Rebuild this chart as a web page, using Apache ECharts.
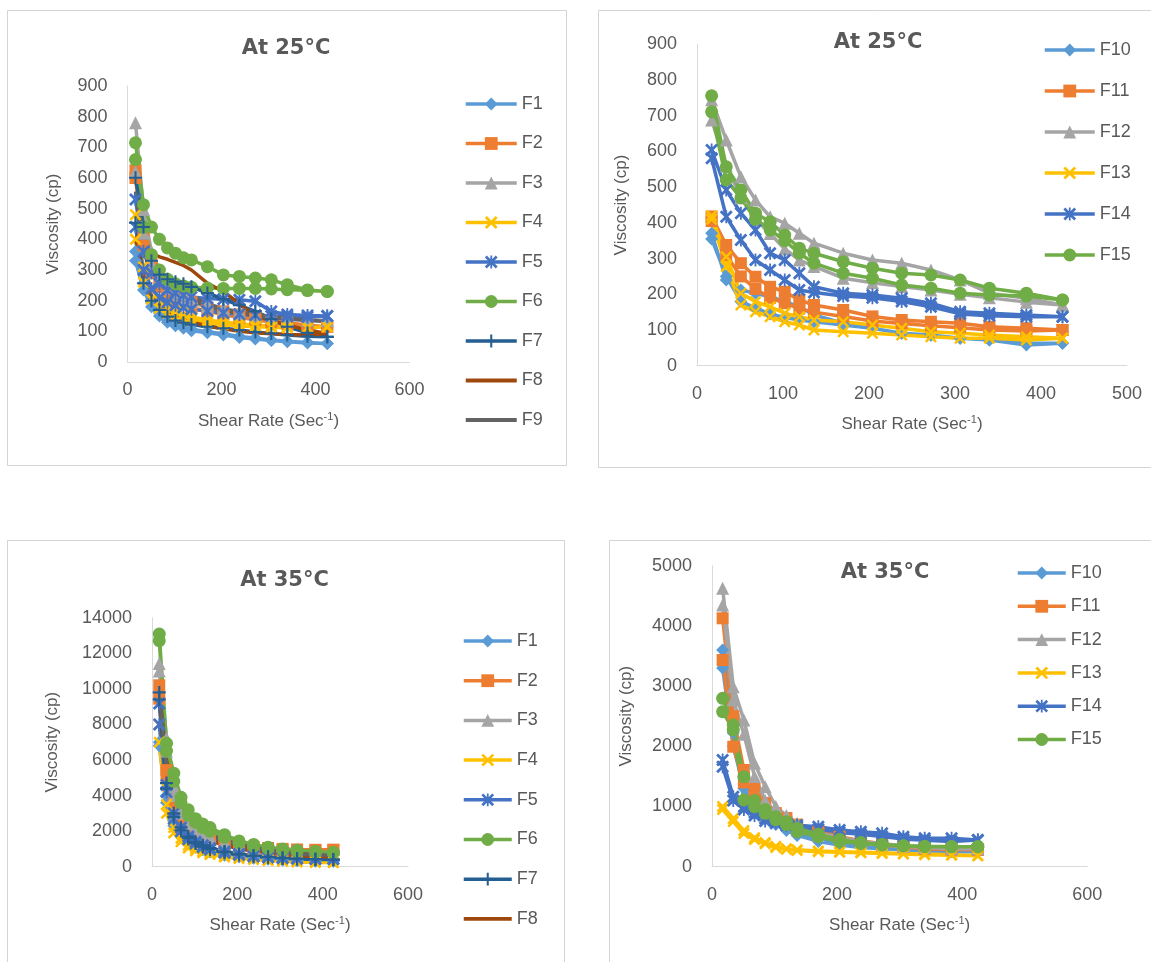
<!DOCTYPE html>
<html>
<head>
<meta charset="utf-8">
<title>Viscosity vs shear rate</title>
<script src="https://cdn.jsdelivr.net/npm/echarts@6/dist/echarts.min.js"></script>
<style>
  html, body { margin: 0; padding: 0; background: #fff; overflow: hidden; }
  #chart { width: 1151px; height: 962px; }
</style>
</head>
<body>
<div id="chart"></div>
<script>
// shear rate steps (Sec-1), same for the up run and the down run
const shearRate = [17, 34, 51, 68, 85, 102, 119, 136, 170, 204, 238, 272, 306, 340, 383, 425];

// ---- 25°C, F1 - F9 (cp) ----
const F1_25up   = [360, 257, 193, 160, 137, 125, 115, 107, 99, 92, 83, 78, 72, 68, 64, 60];
const F1_25down = [330, 235, 180, 150, 130, 118, 110, 102, 95, 88, 80, 75, 70, 66, 62, 60];
const F2_25up   = [625, 430, 320, 270, 240, 220, 205, 195, 178, 165, 155, 145, 135, 128, 120, 115];
const F2_25down = [600, 380, 290, 245, 220, 200, 188, 178, 165, 155, 145, 138, 130, 124, 118, 115];
const F3_25up   = [780, 497, 360, 300, 265, 245, 225, 210, 190, 175, 165, 155, 148, 142, 138, 135];
const F3_25down = [620, 420, 320, 270, 240, 220, 205, 195, 180, 168, 158, 150, 144, 140, 137, 135];
const F4_25up   = [480, 310, 240, 200, 180, 165, 155, 147, 137, 130, 125, 120, 117, 114, 112, 115];
const F4_25down = [400, 260, 205, 175, 160, 150, 142, 135, 128, 122, 118, 115, 113, 112, 112, 115];
const F5_25up   = [530, 360, 290, 255, 235, 225, 218, 212, 207, 205, 203, 198, 165, 155, 152, 150];
const F5_25down = [440, 300, 240, 210, 195, 185, 178, 172, 166, 160, 156, 153, 150, 148, 147, 150];
const F6_25up   = [715, 513, 440, 400, 372, 355, 340, 333, 311, 284, 279, 274, 268, 252, 235, 230];
const F6_25down = [660, 440, 350, 300, 270, 255, 248, 244, 241, 240, 240, 240, 238, 236, 233, 230];
const F7_25up   = [601, 440, 330, 285, 270, 262, 255, 245, 225, 205, 185, 165, 140, 115, 95, 82];
const F7_25down = [454, 257, 200, 170, 148, 135, 128, 122, 115, 110, 104, 98, 93, 88, 84, 82];
const F8_25up   = [410, 375, 355, 343, 335, 325, 315, 300, 257, 230, 190, 150, 135, 120, 105, 92];
const F8_25down = [400, 280, 215, 185, 165, 150, 140, 130, 118, 108, 100, 95, 92, 90, 88, 92];
const F9_25up   = [556, 400, 330, 295, 265, 246, 230, 213, 190, 172, 162, 155, 148, 142, 137, 132];
const F9_25down = [550, 370, 300, 260, 240, 225, 210, 200, 182, 168, 158, 150, 145, 140, 135, 132];

// ---- 25°C, F10 - F15 ----
const F10_25up   = [371, 240, 212, 203, 193, 179, 165, 142, 119, 105, 91, 86, 77, 72, 63, 63];
const F10_25down = [355, 250, 180, 161, 145, 135, 128, 123, 114, 105, 91, 85, 77, 72, 58, 63];
const F11_25up   = [418, 338, 287, 249, 221, 207, 184, 170, 156, 138, 128, 123, 119, 109, 105, 100];
const F11_25down = [405, 310, 250, 215, 190, 175, 160, 150, 138, 125, 118, 112, 106, 100, 97, 100];
const F12_25up   = [745, 632, 529, 464, 417, 399, 371, 343, 315, 296, 287, 268, 240, 203, 189, 170];
const F12_25down = [688, 560, 470, 410, 370, 327, 296, 278, 245, 232, 222, 212, 200, 190, 178, 170];
const F13_25up   = [420, 305, 203, 179, 165, 147, 137, 128, 123, 114, 105, 95, 91, 86, 81, 77];
const F13_25down = [410, 278, 170, 151, 137, 123, 114, 100, 95, 91, 86, 81, 77, 77, 72, 77];
const F14_25up   = [604, 492, 427, 380, 315, 296, 259, 221, 203, 198, 189, 175, 151, 147, 142, 137];
const F14_25down = [581, 417, 352, 296, 268, 240, 212, 205, 195, 190, 180, 165, 145, 140, 137, 137];
const F15_25up   = [756, 557, 492, 427, 403, 366, 329, 315, 291, 273, 259, 254, 240, 217, 203, 184];
const F15_25down = [711, 520, 470, 410, 380, 350, 315, 287, 259, 245, 226, 217, 203, 198, 195, 184];

// ---- 35°C, F1 - F9 ----
const F1_35up   = [7000, 4000, 2600, 1900, 1500, 1250, 1050, 900, 700, 580, 500, 440, 390, 350, 320, 300];
const F1_35down = [6800, 3600, 2300, 1700, 1350, 1100, 950, 820, 650, 550, 470, 420, 380, 340, 310, 300];
const F2_35up   = [10200, 5430, 3600, 2800, 2300, 2000, 1800, 1600, 1350, 1200, 1100, 1050, 1000, 970, 950, 950];
const F2_35down = [9445, 5000, 3300, 2600, 2100, 1850, 1650, 1500, 1250, 1100, 1000, 950, 920, 900, 900, 950];
const F3_35up   = [11420, 7220, 4500, 3300, 2600, 2200, 1900, 1700, 1400, 1200, 1050, 950, 870, 800, 750, 700];
const F3_35down = [11000, 6500, 4000, 3000, 2400, 2000, 1750, 1550, 1300, 1100, 980, 880, 800, 750, 720, 700];
const F4_35up   = [8000, 3500, 2200, 1600, 1200, 1000, 850, 750, 600, 500, 430, 380, 330, 290, 260, 230];
const F4_35down = [7000, 3000, 1900, 1400, 1050, 900, 780, 680, 550, 460, 400, 350, 310, 270, 240, 230];
const F5_35up   = [9180, 4600, 3000, 2200, 1700, 1400, 1200, 1050, 850, 720, 620, 550, 500, 460, 440, 430];
const F5_35down = [8000, 4200, 2700, 2000, 1550, 1300, 1100, 950, 780, 660, 580, 520, 480, 450, 430, 430];
const F6_35up   = [13085, 6940, 5260, 3900, 3200, 2700, 2400, 2200, 1800, 1450, 1250, 1100, 1000, 920, 860, 800];
const F6_35down = [12710, 6500, 4800, 3600, 2900, 2500, 2200, 2000, 1650, 1350, 1150, 1030, 950, 880, 830, 800];
const F7_35up   = [9800, 4700, 3000, 2200, 1700, 1400, 1200, 1050, 850, 720, 630, 560, 500, 460, 430, 400];
const F7_35down = [9400, 4400, 2800, 2050, 1600, 1300, 1120, 980, 800, 680, 600, 530, 480, 440, 410, 400];
const F8_35up   = [9900, 6000, 4200, 3100, 2500, 2100, 1800, 1600, 1300, 1100, 950, 850, 760, 680, 600, 550];
const F8_35down = [9600, 5500, 3800, 2900, 2300, 1900, 1650, 1450, 1200, 1000, 880, 780, 700, 630, 570, 550];
const F9_35up   = [10000, 5800, 4000, 3200, 2700, 2300, 2000, 1800, 1500, 1250, 1100, 950, 850, 750, 680, 620];
const F9_35down = [9900, 5500, 3700, 3000, 2500, 2100, 1850, 1650, 1400, 1180, 1030, 900, 800, 720, 660, 620];

// ---- 35°C, F10 - F15 ----
const F10_35up   = [3600, 2220, 1500, 1100, 900, 760, 650, 560, 450, 380, 340, 310, 290, 270, 260, 250];
const F10_35down = [3300, 2000, 1300, 1000, 820, 700, 600, 520, 420, 360, 320, 300, 280, 260, 250, 250];
const F11_35up   = [4126, 2500, 1606, 1300, 1057, 891, 808, 700, 600, 500, 430, 380, 340, 310, 290, 280];
const F11_35down = [3433, 1993, 1400, 1150, 950, 820, 750, 650, 560, 470, 410, 360, 330, 300, 285, 280];
const F12_35up   = [4625, 2990, 2437, 1717, 1329, 1000, 850, 720, 560, 480, 420, 380, 350, 330, 310, 300];
const F12_35down = [4347, 2770, 2200, 1500, 1100, 900, 780, 650, 520, 450, 400, 360, 340, 320, 300, 300];
const F13_35up   = [1000, 800, 600, 480, 400, 340, 300, 280, 260, 250, 240, 230, 220, 210, 200, 180];
const F13_35down = [950, 750, 550, 450, 380, 320, 290, 270, 250, 240, 230, 220, 210, 200, 190, 180];
const F14_35up   = [1772, 1163, 997, 900, 800, 760, 720, 690, 664, 609, 581, 554, 498, 471, 471, 443];
const F14_35down = [1661, 1100, 950, 850, 760, 720, 690, 660, 620, 570, 540, 500, 460, 440, 420, 443];
const F15_35up   = [2797, 2354, 1495, 1100, 950, 830, 748, 640, 540, 450, 400, 370, 350, 340, 335, 332];
const F15_35down = [2575, 2271, 1108, 997, 886, 780, 700, 581, 498, 415, 388, 360, 345, 332, 330, 332];

// excel-like markers that echarts doesn't have built in
const X_MARK = 'path://M1.5,0 L5,3.5 L8.5,0 L10,1.5 L6.5,5 L10,8.5 L8.5,10 L5,6.5 L1.5,10 L0,8.5 L3.5,5 L0,1.5 Z';
const STAR_MARK = X_MARK.replace(' Z', ' Z M4.3,0 L5.7,0 L5.7,10 L4.3,10 Z');
const PLUS_MARK = 'path://M4.2,0 L5.8,0 L5.8,4.2 L10,4.2 L10,5.8 L5.8,5.8 L5.8,10 L4.2,10 L4.2,5.8 L0,5.8 L0,4.2 L4.2,4.2 Z';
const LINE_ICON = 'path://M0,0 L40,0 L40,3 L0,3 Z';

const look = {
  F1: { color: '#5B9BD5', symbol: 'diamond', size: 13 },
  F2: { color: '#ED7D31', symbol: 'rect', size: 12 },
  F3: { color: '#A5A5A5', symbol: 'triangle', size: 13 },
  F4: { color: '#FFC000', symbol: X_MARK, size: 12 },
  F5: { color: '#4472C4', symbol: STAR_MARK, size: 13 },
  F6: { color: '#70AD47', symbol: 'circle', size: 13 },
  F7: { color: '#255E91', symbol: PLUS_MARK, size: 13 },
  F8: { color: '#9E480E', symbol: 'none', size: 0 },
  F9: { color: '#636363', symbol: 'none', size: 0 }
};
look.F10 = look.F1; look.F11 = look.F2; look.F12 = look.F3;
look.F13 = look.F4; look.F14 = look.F5; look.F15 = look.F6;

const FONT = '"Liberation Sans", Arial, sans-serif';
const GREY_TEXT = '#595959';

// up run, then back down
function loop(up, down) {
  const pts = up.map((v, i) => [shearRate[i], v]);
  for (let i = down.length - 1; i >= 0; i--) pts.push([shearRate[i], down[i]]);
  return pts;
}

const panels = [
  {
    box: [7.5, 10.5, 559, 455],
    title: 'At 25°C', titleAt: [286, 49],
    grid: { left: 127.5, top: 86, width: 282, height: 276 },
    xMax: 600, xStep: 200, yMax: 900, yStep: 100, yNameGap: 66,
    legend: { left: 464, top: 95, itemWidth: 51, itemGap: 21.5 },
    legendNames: ['F1', 'F2', 'F3', 'F4', 'F5', 'F6', 'F7', 'F8', 'F9'],
    lines: {
      F1: [F1_25up, F1_25down], F2: [F2_25up, F2_25down], F3: [F3_25up, F3_25down],
      F4: [F4_25up, F4_25down], F5: [F5_25up, F5_25down], F6: [F6_25up, F6_25down],
      F7: [F7_25up, F7_25down], F8: [F8_25up, F8_25down], F9: [F9_25up, F9_25down]
    }
  },
  {
    box: [598.5, 10.5, 600, 457],
    title: 'At 25°C', titleAt: [878, 43],
    grid: { left: 697, top: 44.3, width: 430, height: 321.4 },
    xMax: 500, xStep: 100, yMax: 900, yStep: 100, yNameGap: 67,
    legend: { left: 1043, top: 41, itemWidth: 50, itemGap: 23 },
    legendNames: ['F10', 'F11', 'F12', 'F13', 'F14', 'F15'],
    lines: {
      F10: [F10_25up, F10_25down], F11: [F11_25up, F11_25down], F12: [F12_25up, F12_25down],
      F13: [F13_25up, F13_25down], F14: [F14_25up, F14_25down], F15: [F15_25up, F15_25down]
    }
  },
  {
    box: [7.5, 540.5, 557, 500],
    title: 'At 35°C', titleAt: [284.5, 581],
    grid: { left: 152, top: 617.7, width: 256, height: 249 },
    xMax: 600, xStep: 200, yMax: 14000, yStep: 2000, yNameGap: 91,
    legend: { left: 462, top: 632, itemWidth: 48, itemGap: 21.7 },
    legendNames: ['F1', 'F2', 'F3', 'F4', 'F5', 'F6', 'F7', 'F8'],
    lines: {
      F1: [F1_35up, F1_35down], F2: [F2_35up, F2_35down], F3: [F3_35up, F3_35down],
      F4: [F4_35up, F4_35down], F5: [F5_35up, F5_35down], F6: [F6_35up, F6_35down],
      F7: [F7_35up, F7_35down], F8: [F8_35up, F8_35down], F9: [F9_35up, F9_35down]
    }
  },
  {
    box: [609.5, 540.5, 600, 500],
    title: 'At 35°C', titleAt: [885, 573],
    grid: { left: 712, top: 565.7, width: 375.3, height: 301 },
    xMax: 600, xStep: 200, yMax: 5000, yStep: 1000, yNameGap: 77,
    legend: { left: 1016, top: 564, itemWidth: 48, itemGap: 15.3 },
    legendNames: ['F10', 'F11', 'F12', 'F13', 'F14', 'F15'],
    lines: {
      F10: [F10_35up, F10_35down], F11: [F11_35up, F11_35down], F12: [F12_35up, F12_35down],
      F13: [F13_35up, F13_35down], F14: [F14_35up, F14_35down], F15: [F15_35up, F15_35down]
    }
  }
];

const axisText = { fontSize: 18, color: GREY_TEXT, fontFamily: FONT, formatter: v => String(v) };
const axisLine = { show: true, onZero: false, lineStyle: { color: '#d9d9d9', width: 1 } };

const option = {
  animation: false,
  textStyle: { fontFamily: FONT },
  title: [], grid: [], xAxis: [], yAxis: [], legend: [], series: [],
  graphic: panels.map(p => ({
    type: 'rect', silent: true, z: -1,
    shape: { x: p.box[0], y: p.box[1], width: p.box[2], height: p.box[3] },
    style: { fill: '#fff', stroke: '#d4d4d4', lineWidth: 1 }
  }))
};

panels.forEach((p, i) => {
  option.title.push({
    text: p.title, left: p.titleAt[0], top: p.titleAt[1], padding: 0,
    textAlign: 'center', textVerticalAlign: 'middle',
    textStyle: { fontSize: 21, fontWeight: 'bold', color: GREY_TEXT, fontFamily: '"DejaVu Sans", sans-serif' }
  });
  option.grid.push(Object.assign({ outerBoundsMode: 'none', containLabel: false }, p.grid));
  option.xAxis.push({
    gridIndex: i, type: 'value', min: 0, max: p.xMax, interval: p.xStep,
    axisLine: axisLine, axisTick: { show: false }, splitLine: { show: false },
    axisLabel: Object.assign({ margin: 19 }, axisText),
    name: 'Shear Rate (Sec{sup|-1})', nameLocation: 'middle', nameGap: 49, nameMoveOverlap: false,
    nameTextStyle: {
      fontSize: 17, color: GREY_TEXT, fontFamily: FONT, lineHeight: 20,
      rich: { sup: { fontSize: 11, color: GREY_TEXT, fontFamily: FONT, lineHeight: 11, verticalAlign: 'top' } }
    }
  });
  option.yAxis.push({
    gridIndex: i, type: 'value', min: 0, max: p.yMax, interval: p.yStep,
    axisLine: axisLine, axisTick: { show: false }, splitLine: { show: false },
    axisLabel: Object.assign({ margin: 20 }, axisText),
    name: 'Viscosity (cp)', nameLocation: 'middle', nameRotate: 90, nameGap: p.yNameGap,
    nameMoveOverlap: false,
    nameTextStyle: { fontSize: 17, color: GREY_TEXT, fontFamily: FONT }
  });
  option.legend.push({
    orient: 'vertical', left: p.legend.left, top: p.legend.top, padding: 0,
    itemWidth: p.legend.itemWidth, itemHeight: 16, itemGap: p.legend.itemGap,
    selectedMode: false,
    lineStyle: { width: 3.5 },
    textStyle: { fontSize: 18, lineHeight: 18, color: GREY_TEXT, fontFamily: FONT },
    data: p.legendNames.map(n => look[n].symbol === 'none' ? { name: n, icon: LINE_ICON } : n)
  });
  Object.keys(p.lines).forEach(n => {
    const st = look[n];
    option.series.push({
      type: 'line', name: n, xAxisIndex: i, yAxisIndex: i,
      data: loop(p.lines[n][0], p.lines[n][1]),
      symbol: st.symbol, symbolSize: st.size,
      showSymbol: st.symbol !== 'none', showAllSymbol: true,
      lineStyle: { color: st.color, width: 3.5 },
      itemStyle: { color: st.color },
      emphasis: { disabled: true },
      clip: true
    });
  });
});

const chart = echarts.init(document.getElementById('chart'), null, { renderer: 'canvas' });
chart.setOption(option);
</script>
</body>
</html>
